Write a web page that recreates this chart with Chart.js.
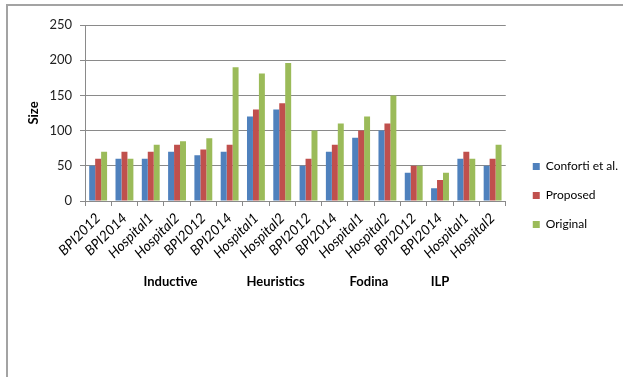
<!DOCTYPE html>
<html lang="en">
<head>
    <meta charset="UTF-8">
    <title>Model size per miner and log</title>
    <script src="https://cdn.jsdelivr.net/npm/chart.js"></script>
    <style>
        html, body { margin: 0; padding: 0; background: #fff; }
        #wrap { position: relative; width: 623px; height: 377px; overflow: hidden; }
        /* frame around the figure */
        #frame { position: absolute; left: 6px; top: 4px; width: 660px; height: 420px;
                 border-left: 2px solid #a3a3a3; border-top: 2px solid #a3a3a3; }
        #sizeChart { position: absolute; left: 0; top: 0; }
    </style>
</head>
<body>
    <div id="wrap">
        <div id="frame"></div>
        <canvas id="sizeChart" width="623" height="377"></canvas>
    </div>

    <script>
        // event logs, four per miner
        const logs = ["BPI2012", "BPI2014", "Hospital1", "Hospital2",
                      "BPI2012", "BPI2014", "Hospital1", "Hospital2",
                      "BPI2012", "BPI2014", "Hospital1", "Hospital2",
                      "BPI2012", "BPI2014", "Hospital1", "Hospital2"];

        // miner names shown under the log labels, and where they sit along the axis
        const miners = ["Inductive", "Heuristics", "Fodina", "ILP"];
        const minerPos = [2.75, 6.75, 10.3, 13.0];

        const conforti = [50, 60, 60, 70, 65, 70, 120, 130, 50, 70, 90, 100, 40, 18, 60, 50];
        const proposed = [60, 70, 70, 80, 73, 80, 130, 139, 60, 80, 100, 110, 50, 30, 70, 60];
        const original = [70, 60, 80, 85, 89, 190, 181, 196, 100, 110, 120, 150, 50, 40, 60, 80];

        const yTicks = [0, 50, 100, 150, 200, 250];

        const font = "Lato, 'Open Sans', sans-serif";
        const axisGrey = "#8a8a8a";

        // push the legend entries a little away from the plot
        const legendGap = {
            id: "legendGap",
            afterLayout(chart) {
                if (chart.legend) {
                    chart.legend.left += 10;
                    chart.legend.right += 10;
                }
            }
        };

        const ctx = document.getElementById("sizeChart").getContext("2d");
        new Chart(ctx, {
            type: "bar",
            data: {
                labels: logs,
                datasets: [
                    { label: "Conforti et al.", data: conforti, backgroundColor: "#4F81BD" },
                    { label: "Proposed", data: proposed, backgroundColor: "#C0504D" },
                    { label: "Original", data: original, backgroundColor: "#9BBB59" }
                ]
            },
            options: {
                responsive: false,
                animation: false,
                datasets: { bar: { barPercentage: 1.0, categoryPercentage: 0.68 } },
                layout: { padding: { top: 25, left: 24, right: 5, bottom: 11 } },
                scales: {
                    y: {
                        min: 0,
                        max: 250,
                        afterBuildTicks: s => { s.ticks = yTicks.map(v => ({ value: v })); },
                        afterFit: s => { s.width = 61; },
                        ticks: { font: { family: font, size: 13 }, color: "#222", padding: 8 },
                        grid: { color: axisGrey, tickLength: 5 },
                        border: { color: axisGrey },
                        title: { display: true, text: "Size", color: "#000",
                                 font: { family: font, size: 13, weight: "bold" }, padding: 2 }
                    },
                    x: {
                        offset: true,
                        afterFit: s => { s.height = 64; },
                        grid: { offset: true, drawOnChartArea: false, color: axisGrey, tickLength: 5 },
                        border: { color: axisGrey },
                        ticks: { autoSkip: false, minRotation: 45, maxRotation: 45, color: "#000",
                                 padding: 4, font: { family: font, size: 14, style: "italic" } }
                    },
                    miner: {
                        type: "linear",
                        position: "bottom",
                        offset: false,
                        min: -0.5,
                        max: 15.5,
                        afterBuildTicks: s => { s.ticks = minerPos.map(v => ({ value: v })); },
                        afterFit: s => { s.height = 101; },
                        grid: { display: false, offset: false },
                        border: { display: false },
                        ticks: { autoSkip: false, maxRotation: 0, color: "#000", padding: 1,
                                 font: { family: font, size: 13, weight: "bold" },
                                 callback: (v, i) => miners[i] }
                    }
                },
                plugins: {
                    tooltip: { enabled: false },
                    legend: {
                        position: "right",
                        align: "center",
                        labels: { boxWidth: 7, boxHeight: 7, padding: 17, color: "#000",
                                  font: { family: font, size: 12 } }
                    }
                }
            },
            plugins: [legendGap]
        });
    </script>
</body>
</html>
